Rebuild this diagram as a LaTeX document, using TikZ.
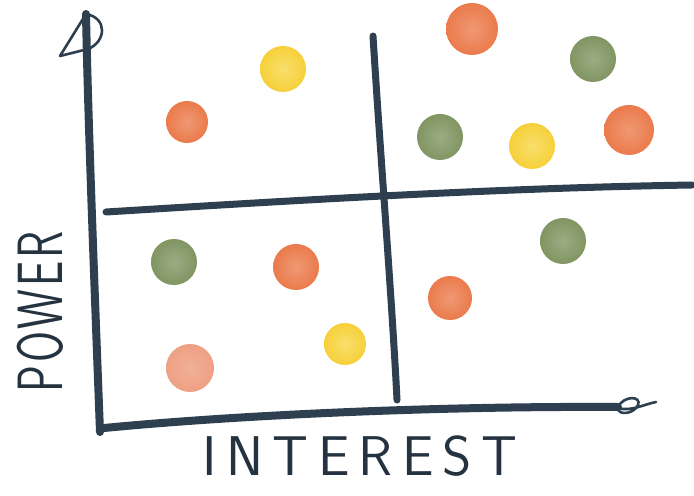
\documentclass[tikz,border=0pt]{standalone}
\usepackage{fontspec}
\usepackage{tikz}
\usetikzlibrary{calc}
\definecolor{ink}{RGB}{46,64,80}
\definecolor{hiorange}{RGB}{232,108,56}
\definecolor{hiyellow}{RGB}{246,212,60}
\definecolor{higreen}{RGB}{122,144,90}
\definecolor{hisalmon}{RGB}{236,150,118}
\tikzset{
  axis/.style={draw=ink, line width=4pt, line cap=round},
  grid/.style={draw=ink, line width=3.5pt, line cap=round},
  tip/.style={draw=ink, line width=1.3pt, line cap=round, line join=round},
  dot/.style={circle, draw=none, inner sep=0pt, minimum size=#1},
  dot/.default=22pt,
  orange/.style={inner color=hiorange!70, outer color=hiorange!90},
  yellow/.style={inner color=hiyellow!75, outer color=hiyellow!95!orange},
  green/.style={inner color=higreen!75, outer color=higreen!95},
  salmon/.style={inner color=hisalmon!75, outer color=hisalmon!90},
  hand/.style={text=ink!80!black, font=\sffamily\fontsize{28}{30}\selectfont, inner sep=0pt}
}
\begin{document}
\begin{tikzpicture}[x=0.5pt, y=-0.5pt]
  \fill[white] (0,0) rectangle (694,496);
  \useasboundingbox (0,0) rectangle (694,496);
  % axes
  \coordinate (ytop) at (86,14);
  \coordinate (ybot) at (100,432);
  \coordinate (xleft) at (104,428);
  \coordinate (xright) at (618,407);
  \draw[axis] (ybot) .. controls (95,300) and (88,120) .. (ytop);
  \draw[tip] (ytop) -- (60,56) -- (88,49) .. controls (106,42) and (108,18) .. (ytop);
  \draw[axis] (xleft) .. controls (250,414) and (450,406) .. (xright);
  \draw[tip] (xright) .. controls (624,395) and (642,396) .. (638,405)
    .. controls (634,414) and (618,416) .. (618,408)
    .. controls (630,412) and (645,404) .. (656,402);
  % quadrant lines
  \coordinate (mtop) at (373,36);
  \coordinate (mbot) at (397,400);
  \coordinate (hleft) at (106,212);
  \coordinate (hright) at (692,185);
  \draw[grid] (mtop) .. controls (380,150) and (392,300) .. (mbot);
  \draw[grid] (hleft) .. controls (300,200) and (500,188) .. (hright);
  % stakeholders
  \node[dot=21pt, orange] (o1) at (187,122) {};
  \node[dot=23pt, yellow] (y1) at (283,69) {};
  \node[dot=26pt, orange] (o2) at (472,29) {};
  \node[dot=23pt, green] (g1) at (593,59) {};
  \node[dot=23pt, green] (g2) at (440,137) {};
  \node[dot=23pt, yellow] (y2) at (532,146) {};
  \node[dot=25pt, orange] (o3) at (629,130) {};
  \node[dot=23pt, green] (g3) at (174,262) {};
  \node[dot=23pt, orange] (o4) at (296,267) {};
  \node[dot=24pt, salmon] (s1) at (190,368) {};
  \node[dot=21pt, yellow] (y3) at (345,344) {};
  \node[dot=22pt, orange] (o5) at (450,298) {};
  \node[dot=23pt, green] (g4) at (563,241) {};
  % labels
  \node[hand, rotate=90] (power) at (40,312)
    {\fontsize{32}{34}\selectfont\scalebox{0.7}[1]{P\kern2pt O\kern2pt W\kern2pt E\kern2pt R}};
  \node[hand] (interest) at (360,456) {I\,N\,T\,E\,R\,E\,S\,T};
\end{tikzpicture}
\end{document}
